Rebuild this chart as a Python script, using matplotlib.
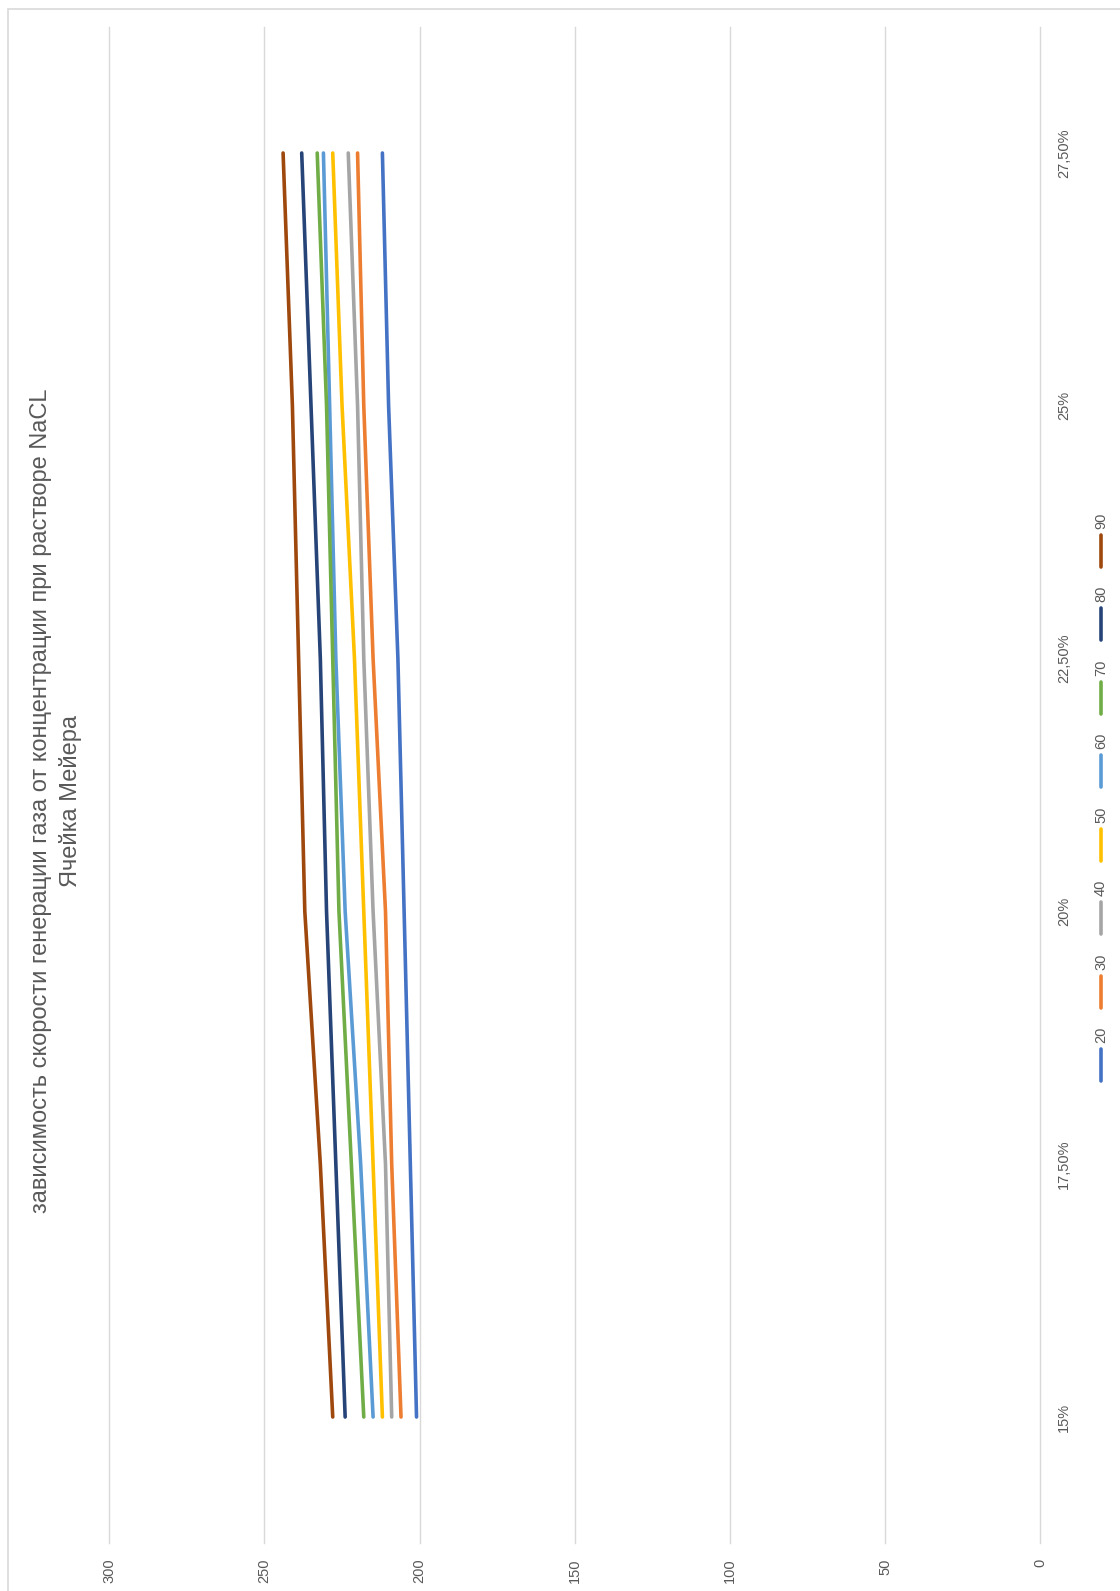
import matplotlib
matplotlib.use("Agg")
import matplotlib.pyplot as plt
from matplotlib.lines import Line2D
from matplotlib.patches import Rectangle

# NaCl concentration categories
categories = ["15%", "17,50%", "20%", "22,50%", "25%", "27,50%"]

# Series names (legend labels)
series_names = ["20", "30", "40", "50", "60", "70", "80", "90"]

# Gas generation rate for each series
s20 = [201, 203, 205, 207, 210, 212]
s30 = [206, 209, 211, 215, 218, 220]
s40 = [209, 211, 215, 218, 220, 223]
s50 = [212, 215, 218, 221, 225, 228]
s60 = [215, 219, 224, 227, 229, 231]
s70 = [218, 222, 226, 228, 230, 233]
s80 = [224, 227, 230, 232, 235, 238]
s90 = [228, 232, 237, 239, 241, 244]
series_values = [s20, s30, s40, s50, s60, s70, s80, s90]

value_ticks = [0, 50, 100, 150, 200, 250, 300]

title_line1 = "зависимость скорости генерации газа от концентрации при растворе NaCL"
title_line2 = "Ячейка Мейера"

colors = ["#4472C4", "#ED7D31", "#A5A5A5", "#FFC000",
          "#5B9BD5", "#70AD47", "#264478", "#9E480E"]

W, H = 1120, 1591
fig = plt.figure(figsize=(W / 100, H / 100), dpi=100)
fig.patch.set_facecolor("white")
plt.rcParams["font.family"] = ["Liberation Sans", "DejaVu Sans"]

# chart frame
fig.add_artist(Rectangle((8 / W, -0.05), 1.1, 1 - 9 / H + 0.05,
                         transform=fig.transFigure, fill=False,
                         edgecolor="#d9d9d9", lw=1.2))

# plot area (chart is laid out turned a quarter turn)
left, right = 109.3 / W, 1040.3 / W
top, bottom = 1 - 26.6 / H, 1 - 1543.4 / H
ax = fig.add_axes([left, bottom, right - left, top - bottom])

idx = list(range(len(categories)))
for vals, c in zip(series_values, colors):
    ax.plot(vals, idx, color=c, lw=2.6, solid_capstyle="round", zorder=3)

ax.set_xlim(300, 0)
ax.set_ylim(-0.5, len(categories) - 0.5)
ax.set_xticks(value_ticks)
ax.set_xticklabels([str(v) for v in value_ticks])
ax.set_yticks(idx)
ax.set_yticklabels(categories)
ax.yaxis.tick_right()
ax.tick_params(axis="x", length=0, pad=11, labelrotation=90,
               labelsize=10.5, labelcolor="#595959")
ax.tick_params(axis="y", length=0, pad=12, labelrotation=90,
               labelsize=10.5, labelcolor="#595959")
for lab in ax.get_yticklabels():
    lab.set_va("center")
ax.grid(axis="x", color="#d9d9d9", lw=1)
for gl in ax.get_xgridlines():
    gl.set_clip_on(False)
ax.set_axisbelow(True)
for sp in ax.spines.values():
    sp.set_visible(False)

# title
fig.text(41 / W, 1 - 801 / H, title_line1, rotation=90, ha="center",
         va="center", fontsize=17, color="#595959")
fig.text(71 / W, 1 - 801 / H, title_line2, rotation=90, ha="center",
         va="center", fontsize=17, color="#595959")

# legend
lx = 1101 / W
for i, (name, c) in enumerate(zip(series_names, colors)):
    yc = 1065 - i * 73.5
    fig.add_artist(Line2D([lx, lx], [1 - (yc - 16) / H, 1 - (yc + 16) / H],
                          transform=fig.transFigure, color=c, lw=2.6,
                          solid_capstyle="round"))
    fig.text(lx, 1 - (yc - 30) / H, name, rotation=90, ha="center",
             va="center", fontsize=10.5, color="#595959")

fig.savefig("out.png", dpi=100, facecolor="white")
